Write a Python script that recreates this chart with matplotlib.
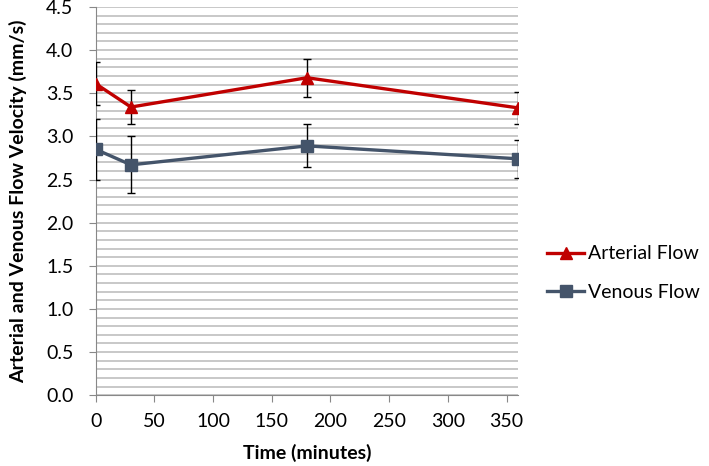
import matplotlib
matplotlib.use("Agg")
import matplotlib.pyplot as plt
import numpy as np

time_min = [0, 30, 180, 360]
arterial = [3.61, 3.34, 3.68, 3.33]
arterial_err = [0.25, 0.20, 0.22, 0.19]
venous = [2.85, 2.67, 2.89, 2.74]
venous_err = [0.35, 0.33, 0.25, 0.22]

plt.rcParams['font.family'] = ['Lato', 'DejaVu Sans']

fig = plt.figure(figsize=(7.09, 4.66), dpi=100)
ax = fig.add_axes([0.135, 0.152, 0.596, 0.833])

red = '#C00000'
blue = '#44546A'

ax.errorbar(time_min, arterial, yerr=arterial_err, color=red, lw=2.4,
            marker='^', ms=9, ecolor='black', elinewidth=1, capsize=3,
            capthick=1, label='Arterial Flow', zorder=3)
ax.errorbar(time_min, venous, yerr=venous_err, color=blue, lw=2.4,
            marker='s', ms=8, ecolor='black', elinewidth=1, capsize=3,
            capthick=1, label='Venous Flow', zorder=3)

ax.set_xlim(0, 360)
ax.set_ylim(0, 4.5)
ax.set_xticks(np.arange(0, 351, 50))
ax.set_yticks(np.arange(0, 4.51, 0.5))
ax.set_yticklabels([f"{v:.1f}" for v in np.arange(0, 4.51, 0.5)])
ax.set_yticks(np.arange(0, 4.51, 0.1), minor=True)
ax.tick_params(axis='y', which='minor', length=0)
ax.yaxis.grid(True, which='both', color='#BFBFBF', lw=1.2)
ax.set_axisbelow(True)
for s in ['top', 'right']:
    ax.spines[s].set_visible(False)
for s in ['left', 'bottom']:
    ax.spines[s].set_color('#888888')
ax.tick_params(axis='both', which='major', color='#888888', length=5,
               labelsize=14, direction='out')
ax.tick_params(axis='y', which='major', pad=11)
ax.tick_params(axis='x', which='major', pad=8)
ax.set_xlabel('Time (minutes)', fontsize=14, fontweight='bold', labelpad=10)
ax.set_ylabel('Arterial and Venous Flow Velocity (mm/s)', fontsize=14,
              fontweight='bold', labelpad=14)

h, l = ax.get_legend_handles_labels()
handles = [hh[0] for hh in h]
fig.legend(handles, l, loc='center left', bbox_to_anchor=(0.772, 0.414),
           frameon=False, fontsize=14, handlelength=1.9, labelspacing=1.1,
           handletextpad=0.2, borderaxespad=0, borderpad=0)

fig.savefig('out.png', dpi=100)
